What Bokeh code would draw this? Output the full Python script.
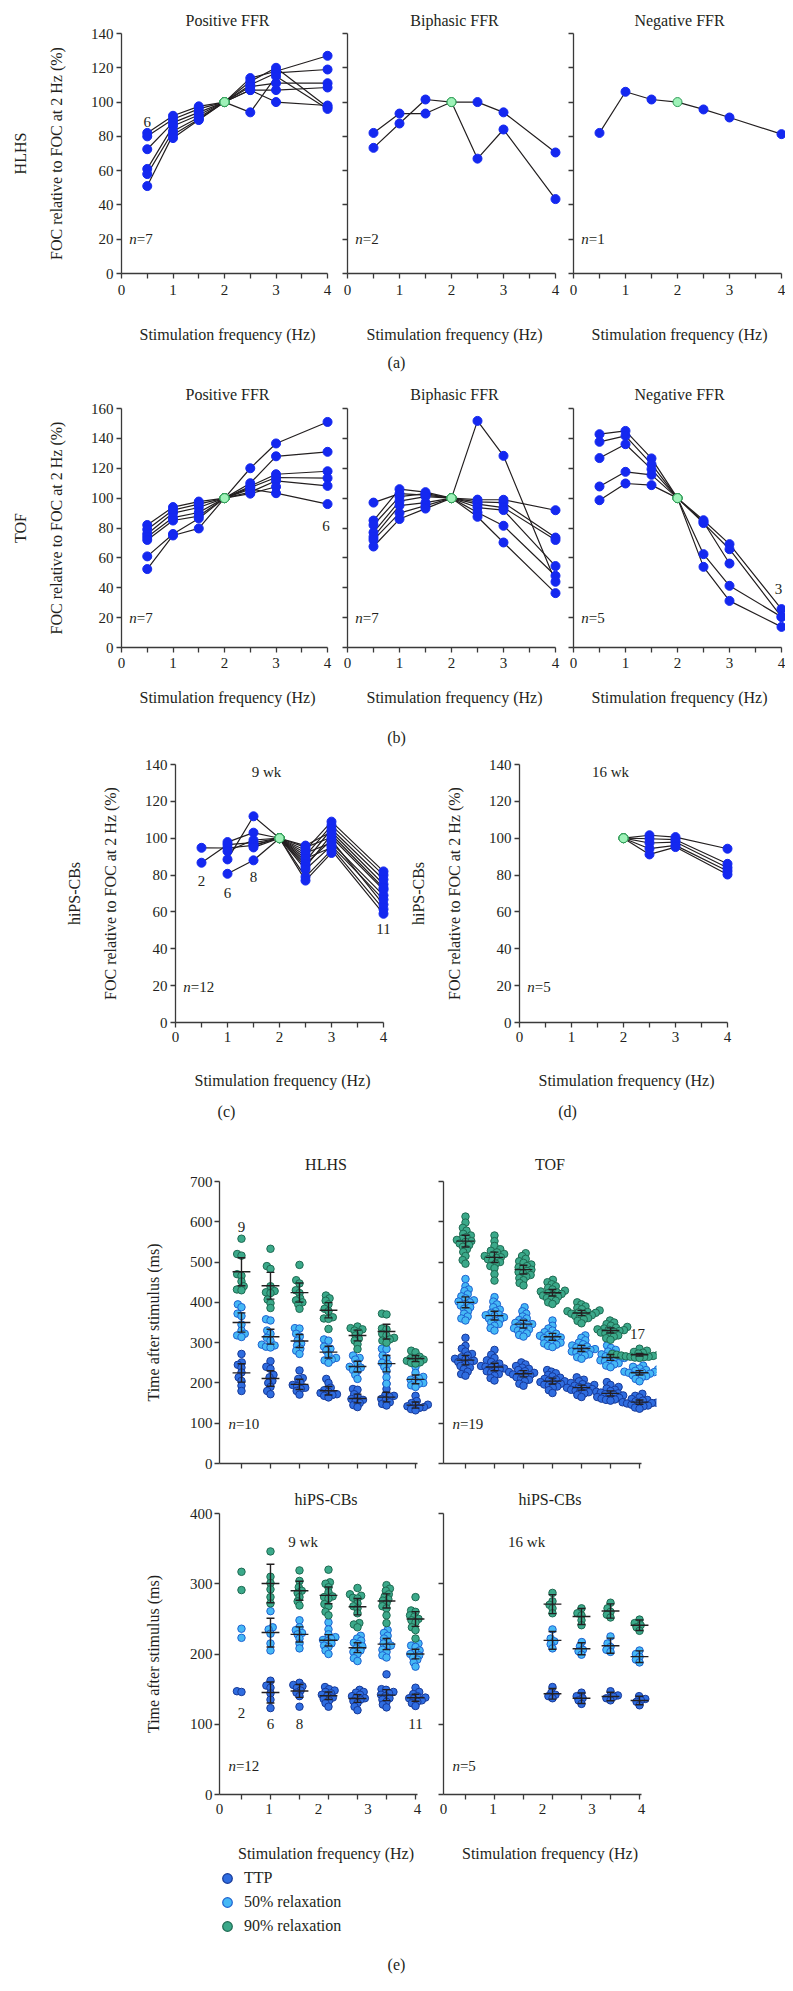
import math
from bokeh.plotting import figure
from bokeh.layouts import column, row
from bokeh.models import Range1d, FixedTicker, LinearAxis, Legend, LegendItem
from bokeh.core.properties import value
from bokeh.embed import file_html
from bokeh.resources import INLINE

FONT = "Liberation Serif"
INK = "#231f20"
AXC = "#3a3a3a"
BLUE = "#1428f0"
REF_FILL = "#9ef2b8"
REF_LINE = "#2e9a55"
TTP_FILL, TTP_LINE = "#2f6de0", "#173a98"
R50_FILL, R50_LINE = "#45b8f5", "#1f62d0"
R90_FILL, R90_LINE = "#3ba98a", "#1f6a52"

# ---------------- data: force-frequency relationship (% of FOC at 2 Hz) -------------
FREQ = [0.5, 1, 1.5, 2, 2.5, 3, 4]
X_TICKS = [0, 1, 2, 3, 4]
X_MINOR = [0.5, 1.5, 2.5, 3.5]

HLHS_POS = [
    [82, 92, 97.5, 100, 114, 118, 127],
    [80, 90, 96, 100, 112, 120, 97],
    [72.5, 88, 94, 100, 110, 117, 119],
    [61, 86, 92.5, 100, 109, 111, 111],
    [58, 83, 91, 100, 107, 107, 108.5],
    [51, 81, 90, 100, 107, 100, 98],
    [None, 79, 89.5, 100, 94, 115, 96],
]
HLHS_BI = [
    [82, 93.3, 93.3, 100, 100, 94, 70.6],
    [73.3, 87.5, 101.5, 100, 67, 84, 43.4],
]
HLHS_NEG = [
    [82, 106, 101.5, 100, 95.7, 91, 81.3],
]
TOF_POS = [
    [76, 90, 93.7, 100, 120, 136.6, 151],
    [82, 94, 97.7, 100, 110, 128, 131],
    [79, 92, 96, 100, 108, 116, 118],
    [74, 87, 90.4, 100, 107, 113.8, 113.4],
    [72, 85, 88, 100, 104, 111.6, 108.2],
    [61, 76, 86.4, 100, 106, 103.3, 96],
    [52.5, 75, 79.7, 100, 103, 107.6, None],
]
TOF_BI = [
    [97, 103, 102, 100, 151.7, 128.3, 44],
    [85, 106, 104, 100, 99, 98.9, 91.9],
    [82, 101, 103, 100, 97.5, 97, 73.6],
    [77, 98, 101, 100, 96, 93.7, 72],
    [74, 95, 97, 100, 93.7, 92, 54.5],
    [72, 90, 95, 100, 90.4, 81.5, 48],
    [67.6, 86, 93, 100, 87.5, 70.3, 36.4],
]
TOF_NEG = [
    [142.8, 145, 126.6, 100, 85.2, 69.2, 25.7],
    [137.7, 141.7, 122.7, 100, 83.3, 65.8, 20.5],
    [126.8, 136.1, 119.4, 100, 62.5, 41.3, 20.5],
    [107.8, 117.6, 115.6, 100, 54, 31.2, 13.8],
    [98.6, 109.8, 108.7, 100, 84, 56.2, None],
]
WK9 = [
    [94.8, 94.7, 96.1, 100, 96, 103.5, 75],
    [86.7, 96.5, 97.6, 100, 95, 100.5, 72],
    [None, 97.9, 103, 100, 93.5, 109, 82],
    [None, 92.9, 99, 100, 92, 97.5, 69],
    [None, 88.5, 111.9, 100, 90.5, 107, 80],
    [None, 80.7, 88, 100, 89, 95, 61.5],
    [None, None, 96.5, 100, 87.5, 105, 77.6],
    [None, None, 95, 100, 86, 99, 64],
    [None, None, None, 100, 84.5, 102, 73],
    [None, None, None, 100, 83, 96, 66.7],
    [None, None, None, 100, 79, 93.5, 59],
    [None, None, None, 100, 77, 92, None],
]
WK16 = [
    [None, None, None, 100, 101.6, 100.6, 94.3],
    [None, None, None, 100, 99.7, 99.2, 86.1],
    [None, None, None, 100, 97.4, 97.9, 84],
    [None, None, None, 100, 94.3, 96.1, 82.2],
    [None, None, None, 100, 91.2, 95.2, 80.3],
]

# ---------------- data: (e) time after stimulus (ms), 7 stimulation steps ----------------
E_STEPS = ["0.5", "1", "1.5", "2", "2.5", "3", "4"]

HLHS_90 = [
    [558, 520, 516, 470, 466, 452, 440, 432, 430],
    [533, 490, 483, 440, 425, 428, 423, 407, 398, 386],
    [493, 455, 447, 430, 423, 410, 405, 400, 395, 384],
    [417, 410, 404, 395, 384, 378, 363, 360, 359, 334],
    [340, 336, 333, 330, 326, 318, 310, 305, 296, 284],
    [372, 370, 335, 333, 322, 318, 312, 308, 305, 300],
    [280, 276, 265, 262, 260, 258, 255, 251, 250, 248],
]
HLHS_50 = [
    [395, 388, 372, 366, 345, 330, 322, 318, 314],
    [358, 355, 330, 322, 312, 305, 295, 293, 290, 288],
    [336, 335, 322, 315, 305, 298, 293, 285, 280, 272],
    [308, 305, 290, 285, 280, 270, 262, 258, 256, 250],
    [268, 262, 258, 248, 240, 238, 232, 230, 220, 210],
    [285, 284, 268, 262, 250, 247, 240, 230, 214, 198],
    [240, 225, 215, 212, 208, 205, 200, 198, 194, 190],
]
HLHS_TTP = [
    [272, 251, 245, 238, 226, 214, 205, 193, 180],
    [254, 240, 235, 220, 214, 205, 200, 190, 180, 172],
    [231, 212, 210, 200, 195, 192, 188, 185, 180, 171],
    [210, 200, 188, 182, 178, 175, 172, 170, 168, 164],
    [185, 183, 172, 165, 160, 158, 155, 150, 145, 140],
    [198, 185, 170, 168, 165, 160, 158, 152, 148, 144],
    [168, 155, 150, 146, 144, 142, 140, 138, 135, 132],
]
TOF_90 = [
    [613, 598, 585, 578, 570, 566, 562, 558, 555, 552, 550, 546, 542, 538, 532, 525, 515, 505, 496],
    [566, 552, 540, 532, 528, 524, 520, 518, 515, 512, 510, 507, 504, 500, 496, 490, 485, 470, 454],
    [522, 515, 508, 502, 498, 494, 490, 487, 484, 481, 478, 475, 472, 468, 464, 460, 455, 448, 442],
    [456, 450, 445, 440, 436, 432, 429, 427, 425, 423, 421, 419, 417, 414, 411, 408, 404, 400, 396],
    [400, 395, 390, 386, 383, 380, 378, 376, 375, 374, 372, 370, 368, 366, 364, 361, 358, 354, 348],
    [355, 350, 346, 342, 339, 337, 335, 333, 332, 331, 329, 327, 325, 323, 321, 318, 315, 311, 307],
    [285, 280, 277, 275, 273, 272, 271, 270, 269, 268, 267, 266, 265, 265, 264, 263, 262],
]
TOF_50 = [
    [458, 440, 432, 428, 420, 415, 410, 405, 402, 400, 396, 392, 388, 384, 378, 372, 365, 360, 355],
    [413, 402, 395, 388, 382, 378, 374, 370, 368, 366, 363, 360, 357, 354, 350, 346, 342, 336, 330],
    [388, 378, 372, 365, 360, 356, 352, 349, 346, 344, 342, 339, 336, 333, 330, 327, 323, 319, 315],
    [355, 342, 335, 330, 326, 322, 319, 317, 315, 313, 311, 309, 306, 303, 300, 298, 295, 292, 289],
    [318, 312, 306, 300, 296, 293, 290, 288, 286, 284, 282, 280, 278, 276, 274, 271, 268, 264, 260],
    [293, 287, 282, 278, 274, 271, 268, 266, 264, 262, 260, 258, 256, 254, 252, 249, 246, 243, 239],
    [243, 240, 236, 234, 232, 230, 228, 227, 226, 225, 223, 221, 219, 217, 214, 210, 204],
]
TOF_TTP = [
    [312, 292, 285, 278, 272, 268, 264, 260, 258, 255, 252, 250, 246, 242, 238, 234, 228, 222, 218],
    [282, 270, 262, 256, 252, 248, 245, 242, 240, 238, 236, 234, 232, 229, 226, 222, 218, 212, 206],
    [251, 246, 242, 238, 235, 232, 229, 227, 225, 223, 221, 219, 217, 214, 211, 208, 204, 198, 193],
    [232, 228, 224, 220, 216, 213, 210, 208, 206, 204, 202, 200, 198, 196, 194, 191, 188, 182, 175],
    [214, 208, 204, 200, 197, 195, 193, 191, 190, 188, 186, 185, 183, 181, 179, 177, 174, 170, 165],
    [202, 195, 190, 186, 183, 180, 178, 176, 174, 172, 171, 169, 167, 165, 163, 161, 159, 158, 156],
    [173, 168, 164, 160, 158, 156, 154, 152, 151, 150, 149, 148, 146, 144, 142, 139, 136],
]
WK9_90 = [
    [317, 291],
    [346, 310, 301, 292, 281, 272],
    [319, 304, 295, 290, 287, 281, 275, 269],
    [320, 302, 300, 295, 288, 282, 281, 279, 271, 268, 260, 255],
    [294, 285, 283, 280, 279, 272, 268, 265, 258, 244, 242, 238],
    [298, 293, 290, 285, 282, 278, 276, 272, 268, 265, 255, 244],
    [281, 262, 260, 255, 253, 250, 248, 245, 238, 234, 222],
]
WK9_50 = [
    [236, 223],
    [261, 238, 235, 229, 215, 205],
    [248, 238, 234, 230, 228, 222, 215, 208],
    [245, 235, 228, 224, 222, 220, 218, 215, 212, 210, 205, 200],
    [226, 222, 219, 216, 214, 211, 208, 205, 203, 200, 194, 190],
    [234, 230, 226, 222, 218, 215, 212, 210, 206, 203, 198, 195],
    [215, 212, 210, 205, 202, 200, 198, 195, 192, 188, 182],
]
WK9_TTP = [
    [147, 146],
    [162, 155, 152, 144, 135, 123],
    [159, 156, 154, 152, 148, 145, 140, 125],
    [153, 150, 148, 146, 144, 142, 140, 138, 136, 134, 130, 125],
    [149, 146, 145, 142, 140, 138, 137, 135, 133, 130, 125, 120],
    [171, 150, 149, 146, 144, 142, 140, 137, 135, 132, 128, 124],
    [152, 146, 143, 140, 138, 137, 136, 134, 132, 130, 126],
]
WK16_90 = [[], [], [], [287, 275, 270, 265, 258], [265, 258, 255, 248, 241],
           [273, 265, 260, 256, 252], [249, 244, 241, 238, 233]]
WK16_50 = [[], [], [], [235, 222, 218, 214, 208], [217, 211, 206, 204, 199],
           [225, 215, 210, 206, 203], [205, 200, 196, 192, 188]]
WK16_TTP = [[], [], [], [153, 145, 142, 140, 137], [145, 140, 137, 134, 129],
            [147, 141, 139, 137, 134], [140, 136, 134, 132, 127]]

LEGEND_LABELS = ["TTP", "50% relaxation", "90% relaxation"]

# two-sided 95% t quantiles by sample size
T95 = {3: 4.303, 4: 3.182, 5: 2.776, 6: 2.571, 7: 2.447, 8: 2.365, 9: 2.306,
       10: 2.262, 11: 2.228, 12: 2.201, 17: 2.120, 19: 2.101}

# ---------------- layout constants ----------------
PX_HZ = 52.0
E_PX_HZ = 49.5
E_XEND = 213 / E_PX_HZ
COLX = [0.444 + 0.586 * i for i in range(len(E_STEPS))]


def txt(p, xs, ys, texts, align="center", style="normal", size="15px", xoff=0):
    p.text(x=xs, y=ys, text=texts, text_font=value(FONT), text_font_size=value(size),
           text_font_style=value(style), text_color=INK, text_align=value(align),
           text_baseline=value("middle"), x_offset=xoff)


def add_n(p, x, y, rest, gap=7.5):
    txt(p, [x], [y], ["n"], align="left", style="italic")
    txt(p, [x], [y], [rest], align="left", xoff=gap)


def style_axis(ax):
    ax.axis_line_color = AXC
    ax.axis_line_width = 1.3
    ax.major_tick_line_color = AXC
    ax.major_tick_line_width = 1.3
    ax.minor_tick_line_color = AXC
    ax.minor_tick_line_width = 1.3
    ax.major_tick_in = 0
    ax.major_tick_out = 5
    ax.minor_tick_in = 0
    ax.minor_tick_out = 5
    ax.major_label_text_font = FONT
    ax.major_label_text_font_size = "15px"
    ax.major_label_text_color = INK
    ax.axis_label_text_font = FONT
    ax.axis_label_text_font_size = "16px"
    ax.axis_label_text_font_style = "normal"
    ax.axis_label_text_color = INK


def base_fig(width, height, bl, br, bt, bb, xr, yr, title=None, toff=0, tstd=5):
    p = figure(width=width, height=height, x_range=xr, y_range=yr, title=title,
               output_backend="svg", toolbar_location=None,
               min_border_left=bl, min_border_right=br,
               min_border_top=bt, min_border_bottom=bb)
    p.outline_line_color = None
    p.xgrid.visible = False
    p.ygrid.visible = False
    if title:
        p.title.align = "center"
        p.title.offset = toff
        p.title.standoff = tstd
        p.title.text_font = FONT
        p.title.text_font_size = "16px"
        p.title.text_font_style = "normal"
        p.title.text_color = INK
    return p


def add_group_axis(p, label, standoff=16):
    g = LinearAxis(ticker=FixedTicker(ticks=[]), axis_label=label)
    style_axis(g)
    g.axis_line_color = None
    g.major_tick_out = 0
    g.minor_tick_out = 0
    g.major_label_standoff = 0
    g.axis_label_standoff = standoff
    p.add_layout(g, "left")


def line_panel(series, width, bl, br, xend, ymax, geom, title=None, toff=0,
               ylabels=True, group=None, notes=(), ntext=None, ny=20,
               ngap=7.5, xtick_std=6, xlab_std=19):
    height, bt, bb, tstd = geom
    p = base_fig(width, height, bl, br, bt, bb, Range1d(0, xend), Range1d(0, ymax),
                 title, toff, tstd)
    xax = p.xaxis[0]
    style_axis(xax)
    xax.ticker = FixedTicker(ticks=X_TICKS, minor_ticks=X_MINOR)
    xax.bounds = (0, 4)
    xax.major_label_standoff = xtick_std
    xax.axis_label = "Stimulation frequency (Hz)"
    xax.axis_label_standoff = xlab_std
    yax = p.yaxis[0]
    style_axis(yax)
    yticks = list(range(0, ymax + 1, 20))
    if ylabels:
        yax.ticker = FixedTicker(ticks=yticks)
        yax.major_label_standoff = 3
        yax.axis_label = "FOC relative to FOC at 2 Hz (%)"
        yax.axis_label_standoff = 23
        if group:
            add_group_axis(p, group)
    else:
        yax.ticker = FixedTicker(ticks=[], minor_ticks=yticks)
        yax.major_label_standoff = 0

    xs, ys, bx, by, gx, gy = [], [], [], [], [], []
    for s in series:
        fx = [f for f, v in zip(FREQ, s) if v is not None]
        fy = [v for v in s if v is not None]
        xs.append(fx)
        ys.append(fy)
        for f, v in zip(fx, fy):
            if f == 2:
                gx.append(f); gy.append(v)
            else:
                bx.append(f); by.append(v)
    p.multi_line(xs, ys, line_color=INK, line_width=1.2)
    p.scatter(bx, by, size=9, fill_color=BLUE, line_color=BLUE)
    p.scatter(gx, gy, size=9, fill_color=REF_FILL, line_color=REF_LINE, line_width=1)
    if notes:
        txt(p, [n[0] for n in notes], [n[1] for n in notes], [n[2] for n in notes])
    if ntext:
        add_n(p, 0.15, ny, ntext, ngap)
    return p


def swarm(vals, ypx, d=4.6):
    order = sorted(range(len(vals)), key=lambda k: vals[k])
    placed = []
    offs = [0.0] * len(vals)
    for k in order:
        y = vals[k] * ypx
        cands = [0.0]
        for (px, py) in placed:
            dy = abs(py - y)
            if dy < d:
                dx = math.sqrt(d * d - dy * dy)
                cands += [px + dx, px - dx]
        cands.sort(key=lambda c: (abs(c), c))
        for c in cands:
            if all((c - px) ** 2 + (y - py) ** 2 >= d * d - 1e-6 for (px, py) in placed):
                offs[k] = c
                placed.append((c, y))
                break
    return offs


def dot_panel(groups, width, bl, br, ymax, geom, title, toff, ylabels, xlabels,
              notes=(), ntext=None, ny=97, xlab_std=28):
    height, bt, bb, tstd = geom
    p = base_fig(width, height, bl, br, bt, bb, Range1d(0, E_XEND), Range1d(0, ymax),
                 title, toff, tstd)
    ypx = (height - bt - bb) / ymax
    xax = p.xaxis[0]
    style_axis(xax)
    xax.bounds = (0, 4)
    if xlabels:
        xax.ticker = FixedTicker(ticks=X_TICKS, minor_ticks=COLX)
        xax.major_tick_line_color = None
        xax.major_label_standoff = 4
        xax.axis_label = "Stimulation frequency (Hz)"
        xax.axis_label_standoff = xlab_std
    else:
        xax.ticker = FixedTicker(ticks=[], minor_ticks=COLX)
        xax.major_label_standoff = 0
    yax = p.yaxis[0]
    style_axis(yax)
    yticks = list(range(0, ymax + 1, 100))
    if ylabels:
        yax.ticker = FixedTicker(ticks=yticks)
        yax.major_label_standoff = 2
        yax.axis_label = "Time after stimulus (ms)"
        yax.axis_label_standoff = 25
    else:
        yax.ticker = FixedTicker(ticks=[], minor_ticks=yticks)
        yax.major_label_standoff = 0

    for cols, fill, line in groups:
        X, Y = [], []
        for i, vals in enumerate(cols):
            offs = swarm(vals, ypx)
            for v, o in zip(vals, offs):
                X.append(COLX[i] + o / E_PX_HZ)
                Y.append(v)
        p.scatter(X, Y, size=7.5, fill_color=fill, line_color=line, line_width=1)
    x0, y0, x1, y1 = [], [], [], []
    for cols, fill, line in groups:
        for i, vals in enumerate(cols):
            n = len(vals)
            if n < 3:
                continue
            m = sum(vals) / n
            sd = math.sqrt(sum((v - m) ** 2 for v in vals) / (n - 1))
            ci = T95[n] * sd / math.sqrt(n)
            c = COLX[i]
            x0 += [c - 0.18, c, c - 0.08, c - 0.08]
            x1 += [c + 0.18, c, c + 0.08, c + 0.08]
            y0 += [m, m - ci, m - ci, m + ci]
            y1 += [m, m + ci, m - ci, m + ci]
    p.segment(x0, y0, x1, y1, line_color=INK, line_width=1.4)
    if notes:
        txt(p, [n[0] for n in notes], [n[1] for n in notes], [n[2] for n in notes])
    if ntext:
        add_n(p, 0.18, ny, ntext)
    return p


def caption_fig(height, items):
    p = figure(width=777, height=height, x_range=Range1d(0, 777), y_range=Range1d(0, height),
               x_axis_type=None, y_axis_type=None, output_backend="svg",
               toolbar_location=None, min_border=0)
    p.outline_line_color = None
    for x, y, t in items:
        txt(p, [x], [y], [t], size="16px")
    return p


# ---------------- geometry: (height, border top, border bottom, title standoff) ----------
GA = (341, 29, 72, 9)
GB = (336, 32, 65, 12)
GC = (343, 12, 73, 0)
GE1 = (350, 56, 12, 18)
GE2 = (395, 38, 76, 11)

a1 = line_panel(HLHS_POS, 332, 111, 7, 214 / PX_HZ, 140, GA, "Positive FFR", -3, True, "HLHS",
                notes=[(0.5, 88.5, "6")], ntext="=7", xlab_std=28)
a2 = line_panel(HLHS_BI, 226, 7, 5, 214 / PX_HZ, 140, GA, "Biphasic FFR", -4, False, ntext="=2",
                xlab_std=28)
a3 = line_panel(HLHS_NEG, 219, 7, 0, 212 / PX_HZ, 140, GA, "Negative FFR", -4, False,
                ntext=" =1", ngap=7.5, xlab_std=28)
cap_a = caption_fig(31, [(388, 14, "(a)")])

b1 = line_panel(TOF_POS, 332, 111, 7, 214 / PX_HZ, 160, GB, "Positive FFR", -4, True, "TOF",
                notes=[(3.97, 81.5, "6")], ntext="=7", xtick_std=5, xlab_std=18)
b2 = line_panel(TOF_BI, 226, 7, 5, 214 / PX_HZ, 160, GB, "Biphasic FFR", -4, False,
                ntext="=7", xtick_std=5, xlab_std=18)
b3 = line_panel(TOF_NEG, 219, 7, 0, 212 / PX_HZ, 160, GB, "Negative FFR", -3, False,
                notes=[(3.94, 39, "3")], ntext="=5", xtick_std=5, xlab_std=18)
cap_b = caption_fig(40, [(388, 15, "(b)")])

c1 = line_panel(WK9, 392, 167, 11, 214 / PX_HZ, 140, GC, None, 0, True, "hiPS-CBs",
                notes=[(0.5, 77, "2"), (1, 70.4, "6"), (1.5, 78.9, "8"), (4, 50.8, "11"),
                       (1.75, 136, "9 wk")],
                ntext="=12", ny=19, xtick_std=4, xlab_std=27)
d1 = line_panel(WK16, 385, 119, 52, 214 / PX_HZ, 140, GC, None, 0, True, "hiPS-CBs",
                notes=[(1.75, 136, "16 wk")], ntext="=5", ny=19, xtick_std=4, xlab_std=27)
cap_cd = caption_fig(30, [(218, 14, "(c)"), (559, 14, "(d)")])

e1 = dot_panel([(HLHS_TTP, TTP_FILL, TTP_LINE), (HLHS_50, R50_FILL, R50_LINE),
                (HLHS_90, R90_FILL, R90_LINE)], 427, 211, 3, 700, GE1, "HLHS", -8, True, False,
               notes=[(COLX[0], 588, "9")], ntext="=10", ny=97)
e2 = dot_panel([(TOF_TTP, TTP_FILL, TTP_LINE), (TOF_50, R50_FILL, R50_LINE),
                (TOF_90, R90_FILL, R90_LINE)], 350, 8, 129, 700, GE1, "TOF", -7, False, False,
               notes=[(3.92, 322, "17")], ntext="=19", ny=97)
e3 = dot_panel([(WK9_TTP, TTP_FILL, TTP_LINE), (WK9_50, R50_FILL, R50_LINE),
                (WK9_90, R90_FILL, R90_LINE)], 427, 211, 3, 400, GE2, "hiPS-CBs", -7, True, True,
               notes=[(1.69, 360, "9 wk"), (COLX[0], 116, "2"), (COLX[1], 100, "6"),
                      (COLX[2], 100, "8"), (COLX[6], 101, "11")], ntext="=12", ny=41)
e4 = dot_panel([(WK16_TTP, TTP_FILL, TTP_LINE), (WK16_50, R50_FILL, R50_LINE),
                (WK16_90, R90_FILL, R90_LINE)], 350, 8, 129, 400, GE2, "hiPS-CBs", -7, False, True,
               notes=[(1.68, 360, "16 wk")], ntext="=5", ny=41)

cap_e = caption_fig(105, [(388, 11, "(e)")])
leg_items = []
for lab, fill, line in zip(LEGEND_LABELS, [TTP_FILL, R50_FILL, R90_FILL],
                           [TTP_LINE, R50_LINE, R90_LINE]):
    r = cap_e.scatter(x=[-1000], y=[-1000], size=10, fill_color=fill, line_color=line,
                      line_width=1.2)
    leg_items.append(LegendItem(label=lab, renderers=[r]))
legend = Legend(items=leg_items, location=(207, 37), orientation="vertical",
                glyph_width=24, glyph_height=24, label_height=22, spacing=-2, padding=0,
                margin=0, label_standoff=5, border_line_color=None, background_fill_alpha=0,
                label_text_font=FONT, label_text_font_size="16px", label_text_color=INK,
                label_text_baseline="middle")
cap_e.add_layout(legend)

page = column(row(a1, a2, a3), cap_a, row(b1, b2, b3), cap_b, row(c1, d1), cap_cd,
              row(e1, e2), row(e3, e4), cap_e, margin=(4, 0, 0, 8))

open("out.html", "w").write(file_html(page, INLINE))
